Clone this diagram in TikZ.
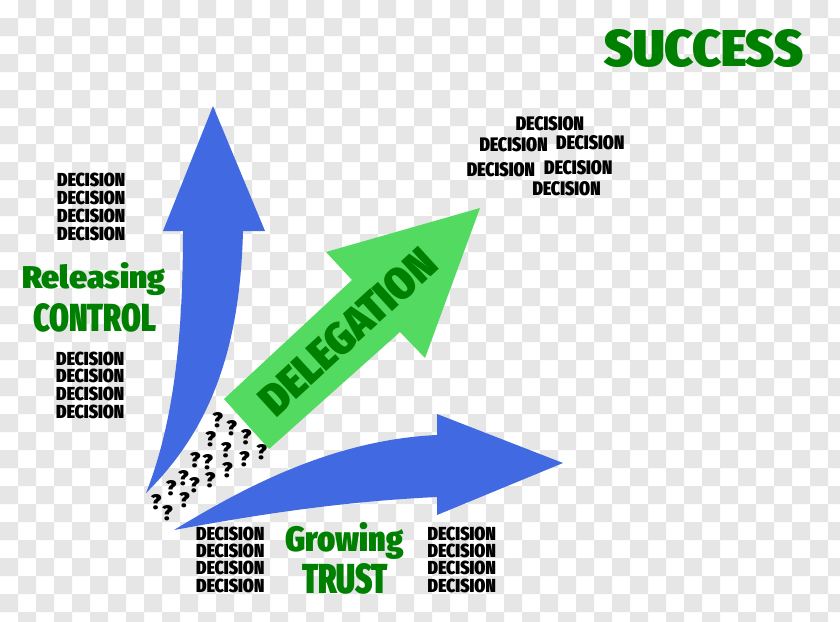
\documentclass[tikz,border=0pt]{standalone}
\usepackage{fontspec}
\IfFontExistsTF{Fira Sans Extra Condensed Black}{\newfontfamily\imp{Fira Sans Extra Condensed Black}}{%
 \IfFontExistsTF{Fira Sans Condensed Black}{\newfontfamily\imp{Fira Sans Condensed Black}}{%
  \IfFontExistsTF{Fira Sans Black}{\newfontfamily\imp{Fira Sans Black}}{%
   \IfFontExistsTF{Lato Black}{\newfontfamily\imp{Lato Black}}{%
    \newfontfamily\imp{Liberation Sans}[UprightFont={* Bold}]}}}}
\definecolor{chk}{RGB}{230,230,230}
\definecolor{rblue}{RGB}{65,105,225}
\definecolor{lgreen}{RGB}{83,218,97}
\definecolor{dgreen}{RGB}{0,128,0}
\newcommand\decw{\resizebox{68pt}{13.5pt}{DECISION}}
\newcommand\decr{\resizebox{68pt}{14pt}{DECISION}}
\begin{document}
\begin{tikzpicture}[x=1pt,y=-1pt,
  dtxt/.style={inner sep=0pt, anchor=base west, font=\imp, text=black},
  gtxt/.style={inner sep=0pt, anchor=base west, font=\imp, text=dgreen},
  qm/.style={inner sep=0pt, font=\imp, text=black}]
\useasboundingbox (0,0) rectangle (840,621);
\fill[white] (0,0) rectangle (840,621);
\begin{scope}
\clip (0,0) rectangle (840,621);
\fill[chk] \foreach \j in {0,...,34} { \foreach \i in {0,...,23} {
    ({(2*\i+1-mod(\j,2))*18},{\j*18}) rectangle ++(18,18) } };
\end{scope}
% vertical blue arrow
\fill[rblue] (146,493) .. controls (175,420) and (183,330) .. (183,231)
  -- (163,231) -- (213,106) -- (265,231) -- (243,231)
  .. controls (240,350) and (210,430) .. (146,493) -- cycle;
% horizontal blue arrow
\fill[rblue] (174,530) .. controls (240,490) and (330,440) .. (437,435)
  -- (437,414) -- (563,463) -- (437,515) -- (437,497)
  .. controls (330,502) and (240,518) .. (174,530) -- cycle;
% green arrow
\fill[lgreen] (224,399) -- (352,280) -- (326,252) -- (480,208) -- (425,358) -- (400,332) -- (269,449) -- cycle;
\node[inner sep=0pt, font=\imp, text=dgreen, rotate=42.5] (deleg) at (347.5,331.7) {\resizebox{222pt}{32pt}{DELEGATION}};
% green labels
\node[gtxt] (succ) at (604,66) {\resizebox{199pt}{37pt}{SUCCESS}};
\node[gtxt] (rel) at (22,288) {\resizebox{143pt}{26pt}{Releasing}};
\node[gtxt] (ctrl) at (33,331) {\resizebox{123pt}{28pt}{CONTROL}};
\node[gtxt] (grow) at (285,551) {\resizebox{118pt}{29pt}{Growing}};
\node[gtxt] (trust) at (302,593) {\resizebox{86pt}{30pt}{TRUST}};
% decision blocks
\node[dtxt] (la1) at (57,186) {\decw};
\node[dtxt] (la2) at (57,204) {\decw};
\node[dtxt] (la3) at (57,222) {\decw};
\node[dtxt] (la4) at (57,240) {\decw};
\node[dtxt] (lb1) at (56,365) {\decw};
\node[dtxt] (lb2) at (56,382.5) {\decw};
\node[dtxt] (lb3) at (56,400) {\decw};
\node[dtxt] (lb4) at (56,418) {\decw};
\node[dtxt] (ba1) at (196,540) {\decw};
\node[dtxt] (ba2) at (196,557) {\decw};
\node[dtxt] (ba3) at (196,574) {\decw};
\node[dtxt] (ba4) at (196,592) {\decw};
\node[dtxt] (bb1) at (427.5,540) {\decw};
\node[dtxt] (bb2) at (427.5,557) {\decw};
\node[dtxt] (bb3) at (427.5,574) {\decw};
\node[dtxt] (bb4) at (427.5,592) {\decw};
\node[dtxt] (t1) at (515.7,130.7) {\decr};
\node[dtxt] (t2) at (479.3,151.7) {\decr};
\node[dtxt] (t3) at (556,149) {\decr};
\node[dtxt] (t4) at (466.7,176) {\decr};
\node[dtxt] (t5) at (544,174) {\decr};
\node[dtxt] (t6) at (532.3,195) {\decr};
% question marks
\foreach \x/\y [count=\k] in {217.7/420.7, 231.7/428.3, 246/437.3, 210.7/439.3, 226/450,
  261.7/452.7, 244.3/459.3, 195/460.7, 207.7/462.3, 227.3/470.7, 183.3/478.3,
  210/480.7, 194.3/485, 171/488.3, 184.3/500, 156/502.7, 167.3/513.3}
  \node[qm] (q\k) at (\x,\y) {\resizebox{10.5pt}{15pt}{?}};
\end{tikzpicture}
\end{document}
